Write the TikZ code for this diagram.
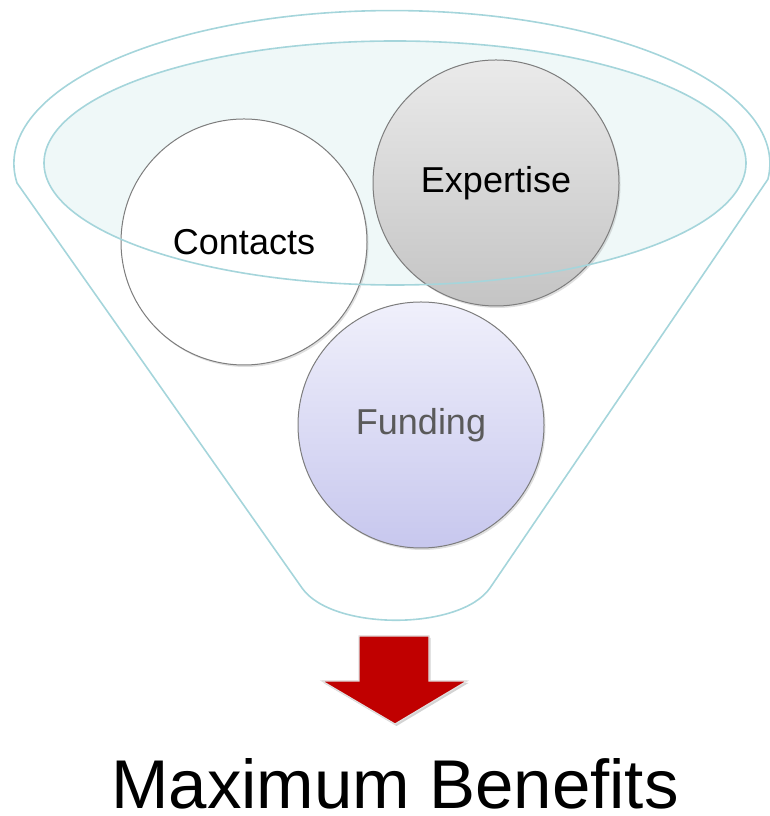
\documentclass[tikz,border=0pt]{standalone}
\usepackage{fontspec}
\setmainfont{Liberation Sans}
\usetikzlibrary{shadows}

\definecolor{funnelline}{RGB}{165,213,219}
\definecolor{funnelfill}{RGB}{239,248,248}
\definecolor{bubbleline}{RGB}{125,125,125}
\definecolor{arrowred}{RGB}{192,0,0}

\tikzset{
  funnel/.style={draw=funnelline, line width=1.6pt},
  bubble/.style={circle, draw=bubbleline, line width=1pt, minimum size=246pt,
    inner sep=0pt, font=\fontsize{36}{43}\selectfont,
    drop shadow={opacity=0.25, shadow xshift=1.5pt, shadow yshift=-2pt}},
}

\begin{document}
\begin{tikzpicture}[x=1pt, y=1pt]
    \useasboundingbox (0,0) rectangle (770,816);

    % funnel body
    \draw[funnel] (302,228) -- (17,633)
        arc[start angle=187.3, end angle=-5.9, x radius=378, y radius=153]
        -- (490,228) .. controls (460,185) and (332,185) .. (302,228) -- cycle;
    \fill[funnelfill] (395,653) ellipse [x radius=351, y radius=122];

    \node[bubble, fill=white] (contacts) at (244,574) {Contacts};
    \node[bubble, top color={rgb,255:red,234;green,234;blue,234},
      bottom color={rgb,255:red,196;green,196;blue,196}] (expertise) at (496,633) {Expertise};
    \node[bubble, top color={rgb,255:red,240;green,240;blue,251},
      bottom color={rgb,255:red,199;green,199;blue,238},
      text={rgb,255:red,90;green,90;blue,90}] (funding) at (421,391) {Funding};

    % rim drawn over the bubbles
    \draw[funnel] (395,653) ellipse [x radius=351, y radius=122];

    % arrow
    \draw[fill=arrowred, draw={rgb,255:red,225;green,225;blue,225}, line width=1.2pt,
      drop shadow={opacity=0.35, shadow xshift=1.5pt, shadow yshift=-2pt}]
      (359,180) -- (429,180) -- (429,135) -- (467,135) -- (395,92)
      -- (322,135) -- (359,135) -- cycle;

    \node[anchor=base, inner sep=0pt, font=\fontsize{69}{80}\selectfont] (benefits) at (395,7) {Maximum Benefits};
  \end{tikzpicture}
\end{document}
